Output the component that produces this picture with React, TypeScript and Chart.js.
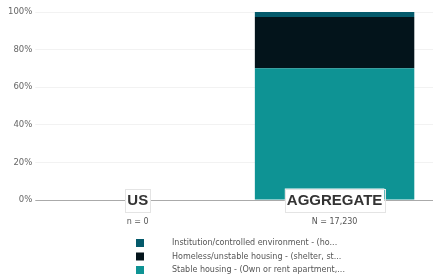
import React, { useEffect, useRef } from "react";
import { Chart, registerables } from "chart.js";

Chart.register(...registerables);

const categories = ["US", "AGGREGATE"];
const subLabels = ["n = 0", "N = 17,230"];
const seriesLabels = [
  "Stable housing - (Own or rent apartment,...",
  "Homeless/unstable housing - (shelter, st...",
  "Institution/controlled environment - (ho...",
];
const stableValues = [0, 70.1];
const homelessValues = [0, 27.2];
const institutionValues = [0, 2.7];
const seriesColors = ["#0e9394", "#03141b", "#045a6b"];
const yTicks = [0, 20, 40, 60, 80, 100];

const labelPlugin = {
  id: "customLabels",
  afterDraw(chart: any) {
    const ctx = chart.ctx;
    const xScale = chart.scales.x;
    const yScale = chart.scales.y;
    const axisY = yScale.getPixelForValue(0);
    ctx.save();
    categories.forEach((cat, i) => {
      const x = xScale.getPixelForValue(i);
      ctx.font = "bold 15px 'Liberation Sans', Arial, sans-serif";
      const w = ctx.measureText(cat).width;
      const bw = w + 4;
      const bh = 23;
      ctx.fillStyle = "#ffffff";
      ctx.fillRect(x - bw / 2, axisY - bh / 2, bw, bh);
      ctx.strokeStyle = "#e4e4e4";
      ctx.lineWidth = 1;
      ctx.strokeRect(Math.round(x - bw / 2) + 0.5, Math.round(axisY - bh / 2) + 0.5, Math.round(bw), bh);
      ctx.fillStyle = "#333333";
      ctx.textAlign = "center";
      ctx.textBaseline = "middle";
      ctx.fillText(cat, x, axisY + 1);
      ctx.font = "8px 'DejaVu Sans', Verdana, sans-serif";
      ctx.fillStyle = "#555555";
      ctx.fillText(subLabels[i], x, axisY + 22);
    });
    const datasets = chart.data.datasets;
    const order = [2, 1, 0];
    order.forEach((di, row) => {
      const ds = datasets[di];
      const cy = 243 + row * 13.5;
      ctx.fillStyle = ds.backgroundColor;
      ctx.fillRect(136, cy - 4, 8, 8);
      ctx.fillStyle = "#555555";
      ctx.font = "8px 'DejaVu Sans', Verdana, sans-serif";
      ctx.textAlign = "left";
      ctx.textBaseline = "middle";
      ctx.fillText(ds.label, 172, cy);
    });
    ctx.restore();
  },
};

function ChartView() {
  const ref = useRef<HTMLCanvasElement | null>(null);
  useEffect(() => {
    document.body.style.margin = "0";
    const canvas = ref.current;
    if (!canvas) return;
    const values = [stableValues, homelessValues, institutionValues];
    const chart = new Chart(canvas, {
      type: "bar",
      data: {
        labels: categories,
        datasets: values.map((v, i) => ({
          label: seriesLabels[i],
          data: v,
          backgroundColor: seriesColors[i],
          borderWidth: 0,
          barPercentage: 0.9,
          categoryPercentage: 0.9,
        })),
      },
      options: {
        animation: false,
        responsive: false,
        maintainAspectRatio: false,
        layout: { padding: { top: 12, bottom: 70, left: 5, right: 0 } },
        plugins: { legend: { display: false }, tooltip: { enabled: false } },
        scales: {
          x: {
            stacked: true,
            grid: { display: false },
            border: { display: false },
            ticks: { display: false },
          },
          y: {
            stacked: true,
            min: 0,
            max: 100,
            afterBuildTicks: (axis: any) => {
              axis.ticks = yTicks.map((v) => ({ value: v }));
            },
            border: { display: false },
            grid: {
              drawTicks: true,
              tickLength: 4,
              color: (c: any) => (c.tick && c.tick.value === 0 ? "#aaaaaa" : "#f2f2f2"),
            },
            ticks: {
              padding: 3,
              color: "#666666",
              font: { family: "'DejaVu Sans', Verdana, sans-serif", size: 8.5 },
              callback: (v: any) => v + "%",
            },
          },
        },
      },
      plugins: [labelPlugin],
    });
    return () => chart.destroy();
  }, []);
  return <canvas ref={ref} width={433} height={278} style={{ display: "block" }} />;
}

export default function App() {
  return <ChartView />;
}
